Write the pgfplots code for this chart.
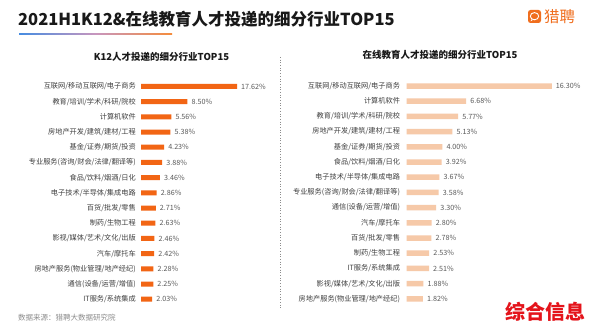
\documentclass[border=0pt]{standalone}
\usepackage{pgfplots}
\pgfplotsset{compat=1.18}
\usepackage{pgfplotstable}
\usepackage{fontspec}
\setmainfont{Noto Sans CJK SC}
\definecolor{barL}{RGB}{242,101,20}
\definecolor{barR}{RGB}{246,201,168}
\definecolor{lblc}{RGB}{64,64,64}
\definecolor{valc}{RGB}{89,89,89}
\definecolor{logoc}{RGB}{240,110,30}
\definecolor{wmred}{RGB}{228,20,27}
\definecolor{gblue}{RGB}{70,140,225}
\definecolor{gmid}{RGB}{200,150,190}
\definecolor{gorange}{RGB}{245,140,60}

\pgfplotstableread[col sep=semicolon]{
idx;val;name
0;17.62;互联网/移动互联网/电子商务
1;8.50;教育/培训/学术/科研/院校
2;5.56;计算机软件
3;5.38;房地产开发/建筑/建材/工程
4;4.23;基金/证券/期货/投资
5;3.88;专业服务(咨询/财会/法律/翻译等)
6;3.46;食品/饮料/烟酒/日化
7;2.86;电子技术/半导体/集成电路
8;2.71;百货/批发/零售
9;2.63;制药/生物工程
10;2.46;影视/媒体/艺术/文化/出版
11;2.42;汽车/摩托车
12;2.28;房地产服务(物业管理/地产经纪)
13;2.25;通信(设备/运营/增值)
14;2.03;IT服务/系统集成
}\leftdata

\pgfplotstableread[col sep=semicolon]{
idx;val;name
0;16.30;互联网/移动互联网/电子商务
1;6.68;计算机软件
2;5.77;教育/培训/学术/科研/院校
3;5.13;房地产开发/建筑/建材/工程
4;4.00;基金/证券/期货/投资
5;3.92;食品/饮料/烟酒/日化
6;3.67;电子技术/半导体/集成电路
7;3.58;专业服务(咨询/财会/法律/翻译等)
8;3.30;通信(设备/运营/增值)
9;2.80;汽车/摩托车
10;2.78;百货/批发/零售
11;2.53;制药/生物工程
12;2.51;IT服务/系统集成
13;1.88;影视/媒体/艺术/文化/出版
14;1.82;房地产服务(物业管理/地产经纪)
}\rightdata

\pgfplotsset{
  mybars/.style={
    scale only axis,
    xbar,
    xmin=0, xmax=20,
    ymin=-0.5, ymax=14.5,
    y dir=reverse,
    height=228bp,
    axis line style={draw=none},
    major tick length=0pt,
    xtick=\empty,
    ytick={0,...,14},
    yticklabel style={font=\fontsize{7.2bp}{8bp}\selectfont, text=lblc, inner sep=0pt, anchor=east},
    clip=false,
    point meta=x,
    nodes near coords={\pgfmathprintnumber[fixed,precision=2,fixed zerofill,assume math mode=true]{\pgfplotspointmeta}\%},
    every node near coord/.append style={font=\fontsize{7.2bp}{8bp}\selectfont, text=valc, inner sep=0pt, anchor=west, xshift=4bp},
  }
}

\begin{document}
\begin{tikzpicture}
\useasboundingbox (0bp,0bp) rectangle (594bp,331bp);
\fill[white] (0bp,0bp) rectangle (594bp,331bp);

% title
\node[anchor=base west, inner sep=0pt, text=black!90] at (18bp,305.5bp) {\fontsize{16.5bp}{18bp}\selectfont\bfseries 2021H1K12\&在线教育人才投递的细分行业TOP15};
\shade[left color=gblue, right color=gorange, middle color=gmid] (19bp,296bp) rectangle (172bp,297.5bp);

% logo
\fill[logoc, rounded corners=2.5bp] (528bp,308bp) rectangle (541bp,321bp);
\draw[white, line width=0.9bp] (534.5bp,314.8bp) ellipse (4.2bp and 3.6bp);
\fill[white] (531.5bp,311.6bp) -- (530.5bp,309.6bp) -- (533.2bp,311.3bp) -- cycle;
\node[anchor=west, inner sep=0pt, text=logoc] at (544bp,314.5bp) {\fontsize{15.5bp}{17bp}\selectfont 猎聘};

% subtitles
\node[inner sep=0pt, text=black!90] at (161.5bp,274bp) {\fontsize{9.5bp}{11bp}\selectfont\bfseries K12人才投递的细分行业TOP15};
\node[inner sep=0pt, text=black!90] at (440bp,276bp) {\fontsize{9.5bp}{11bp}\selectfont\bfseries 在线教育人才投递的细分行业TOP15};

% divider
\draw[black!45, dotted, line width=0.7bp] (280.7bp,274bp) -- (280.7bp,21bp);

% left chart
\begin{axis}[mybars, at={(141bp,252.2bp)}, anchor=north west, width=109bp,
  bar width=5bp,
  yticklabels from table={\leftdata}{name},
  yticklabel style={xshift=-5bp}]
\addplot[fill=barL, draw=none] table[x=val, y=idx] {\leftdata};
\end{axis}

% right chart
\begin{axis}[mybars, at={(406.7bp,252.6bp)}, anchor=north west, width=178bp,
  bar width=5.5bp,
  yticklabels from table={\rightdata}{name},
  yticklabel style={xshift=-6.5bp}]
\addplot[fill=barR, draw=none] table[x=val, y=idx] {\rightdata};
\end{axis}

% source
\node[anchor=west, inner sep=0pt, text=black!45] at (18bp,13bp) {\fontsize{7.5bp}{9bp}\selectfont 数据来源：猎聘大数据研究院};

% watermark
\node[inner sep=0pt, text=wmred] at (545.5bp,19bp) {\fontsize{20bp}{22bp}\selectfont\bfseries 综合信息};
\end{tikzpicture}
\end{document}
